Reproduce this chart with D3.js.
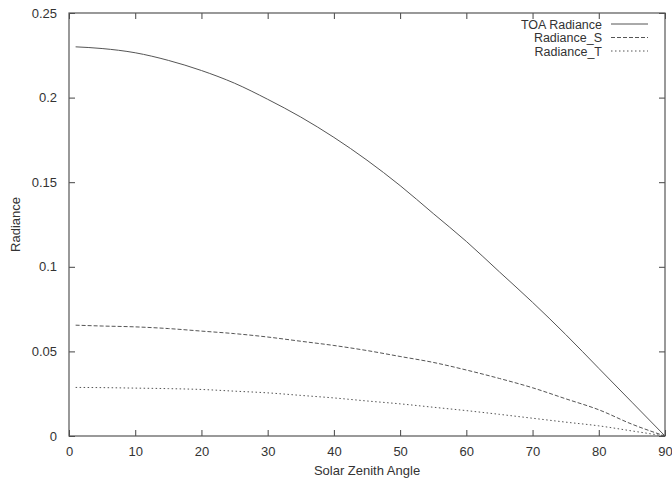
<!DOCTYPE html>
<html>
<head>
    <meta charset="utf-8">
    <title>Radiance vs Solar Zenith Angle</title>
    <script src="https://d3js.org/d3.v7.min.js"></script>
    <style>
        body { margin: 0; background: #fff; }
        text { font-family: "Liberation Sans", Arial, sans-serif; fill: #333; }
    </style>
</head>
<body>
    <script>
        // data
        var angles = [1, 5, 10, 15, 20, 25, 30, 35, 40, 45, 50, 55, 60, 65, 70, 75, 80, 85, 90];
        var toaRadiance = [0.230, 0.229, 0.2265, 0.222, 0.216, 0.2085, 0.199, 0.1885, 0.1765, 0.163, 0.148, 0.1315, 0.115, 0.097, 0.079, 0.060, 0.040, 0.020, 0];
        var radianceS = [0.0655, 0.065, 0.0645, 0.0635, 0.062, 0.0605, 0.0585, 0.056, 0.0535, 0.0505, 0.047, 0.0435, 0.039, 0.034, 0.0285, 0.022, 0.0155, 0.007, 0];
        var radianceT = [0.0287, 0.0286, 0.0283, 0.028, 0.0275, 0.0265, 0.0255, 0.024, 0.0225, 0.0207, 0.019, 0.017, 0.015, 0.0128, 0.0105, 0.0082, 0.006, 0.003, 0];
        var seriesNames = ["TOA Radiance", "Radiance_S", "Radiance_T"];
        var xTicks = [0, 10, 20, 30, 40, 50, 60, 70, 80, 90];
        var yTicks = [0, 0.05, 0.1, 0.15, 0.2, 0.25];

        var width = 672, height = 483;
        // plot box (note: "top" is reserved on window, so use own names)
        var pLeft = 69, pRight = 665, pTop = 13, pBottom = 436;
        var dashes = [null, "4,2", "1.5,2.5"];
        var lineColor = "#555";

        var x = d3.scaleLinear().domain([0, 90]).range([pLeft, pRight]);
        var y = d3.scaleLinear().domain([0, 0.25]).range([pBottom, pTop]);

        var svg = d3.select("body").append("svg")
            .attr("width", width)
            .attr("height", height);

        // ticks on all four sides, pointing inward (gnuplot style)
        svg.append("g")
            .attr("transform", "translate(0," + pBottom + ")")
            .call(d3.axisBottom(x).tickValues(xTicks).tickSizeInner(-6).tickSizeOuter(0).tickPadding(11).tickFormat(d3.format("d")))
            .call(function(g) { g.select(".domain").remove(); });
        svg.append("g")
            .attr("transform", "translate(0," + pTop + ")")
            .call(d3.axisTop(x).tickValues(xTicks).tickSizeInner(-6).tickSizeOuter(0).tickFormat(""))
            .call(function(g) { g.select(".domain").remove(); });
        svg.append("g")
            .attr("transform", "translate(" + pLeft + ",0)")
            .call(d3.axisLeft(y).tickValues(yTicks).tickSizeInner(-6).tickSizeOuter(0).tickPadding(12).tickFormat(function(d) { return String(+d.toFixed(2)); }))
            .call(function(g) { g.select(".domain").remove(); });
        svg.append("g")
            .attr("transform", "translate(" + pRight + ",0)")
            .call(d3.axisRight(y).tickValues(yTicks).tickSizeInner(-6).tickSizeOuter(0).tickFormat(""))
            .call(function(g) { g.select(".domain").remove(); });

        svg.selectAll(".tick line").attr("stroke", "#444");
        svg.selectAll(".tick text").style("font-size", "13px").attr("fill", "#333");

        // frame
        svg.append("rect")
            .attr("x", pLeft).attr("y", pTop)
            .attr("width", pRight - pLeft).attr("height", pBottom - pTop)
            .attr("fill", "none").attr("stroke", "#555").attr("stroke-width", 1.2);

        // lines
        var allSeries = [toaRadiance, radianceS, radianceT];
        var line = d3.line()
            .x(function(d, i) { return x(angles[i]); })
            .y(function(d) { return y(d); })
            .curve(d3.curveMonotoneX);

        allSeries.forEach(function(s, k) {
            svg.append("path")
                .datum(s)
                .attr("d", line)
                .attr("fill", "none")
                .attr("stroke", lineColor)
                .attr("stroke-width", 1)
                .attr("stroke-dasharray", dashes[k]);
        });

        // legend
        var legend = svg.append("g");
        seriesNames.forEach(function(name, k) {
            var ly = 24 + k * 13.5;
            legend.append("text")
                .attr("x", 602).attr("y", ly + 4.5)
                .attr("text-anchor", "end")
                .style("font-size", "12.5px")
                .text(name);
            legend.append("line")
                .attr("x1", 611).attr("x2", 648)
                .attr("y1", ly).attr("y2", ly)
                .attr("stroke", lineColor)
                .attr("stroke-width", 1)
                .attr("stroke-dasharray", dashes[k]);
        });

        // axis titles
        svg.append("text")
            .attr("x", (pLeft + pRight) / 2).attr("y", 475)
            .attr("text-anchor", "middle")
            .style("font-size", "13px")
            .text("Solar Zenith Angle");
        svg.append("text")
            .attr("transform", "translate(20," + (pTop + pBottom) / 2 + ") rotate(-90)")
            .attr("text-anchor", "middle")
            .style("font-size", "13px")
            .attr("fill", "#222")
            .text("Radiance");
    </script>
</body>
</html>
